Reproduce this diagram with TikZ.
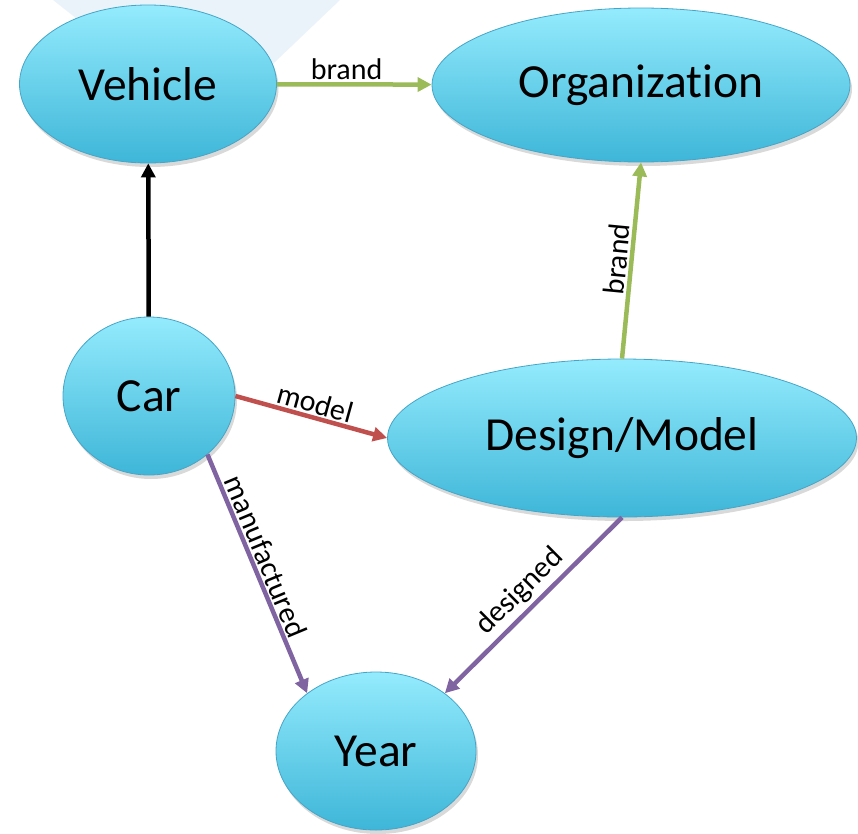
\documentclass[tikz,border=0pt]{standalone}
\usepackage{fontspec}
\setmainfont{Carlito}[Ligatures=NoCommon]
\usepackage{xcolor}
\usetikzlibrary{shapes.geometric,arrows.meta,shadows}
\definecolor{ConceptTop}{RGB}{148,235,253}
\definecolor{ConceptBottom}{RGB}{62,182,216}
\definecolor{ConceptLine}{RGB}{70,165,198}
\definecolor{BrandGreen}{RGB}{155,187,89}
\definecolor{ModelRed}{RGB}{192,80,77}
\definecolor{TimePurple}{RGB}{128,100,162}
\definecolor{FaintBlue}{RGB}{235,243,250}

\begin{document}
\begin{tikzpicture}[y=-1pt,x=1pt]
	\tikzset{
		concept/.style={ellipse, draw=ConceptLine, line width=0.8pt, top color=ConceptTop, bottom color=ConceptBottom, inner sep=0pt, font=\fontsize{47.5}{52}\selectfont, drop shadow={shadow xshift=2pt, shadow yshift=-4pt, opacity=0.3}},
		rel/.style={line width=4.5pt, -{Triangle[length=14pt,width=14pt]}},
		lbl/.style={text=black, font=\fontsize{30}{34}\selectfont, sloped, above, inner sep=2pt}
	}
	\useasboundingbox (0,0) rectangle (858,833);
	\fill[FaintBlue] (53,0) -- (340,0) -- (210,124) -- cycle;

	\node[concept, minimum width=257, minimum height=158] (vehicle) at (148,84) {Vehicle};
	\node[concept, minimum width=418, minimum height=154] (org) at (641,85) {Organization};
	\node[concept, minimum width=172, minimum height=158] (car) at (149,396) {Car};
	\node[concept, minimum width=469, minimum height=158] (design) at (622,438) {Design/Model};
	\node[concept, minimum width=200, minimum height=158] (year) at (376,751) {Year};

	\draw[rel, black] (car) -- (vehicle);
	\draw[rel, BrandGreen] (vehicle) -- node[lbl, pos=0.45] {brand} (org);
	\draw[rel, BrandGreen] (design.north) -- node[lbl, midway] {brand} (org.south);
	\draw[rel, ModelRed] (car.east) -- node[lbl, midway] {model} (design.west);
	\draw[rel, TimePurple] (car.-45) -- node[lbl, pos=0.45] {manufactured} (year.140);
	\draw[rel, TimePurple] (design.south) -- node[lbl, pos=0.5, inner sep=4pt] {designed} (year.40);
\end{tikzpicture}
\end{document}
